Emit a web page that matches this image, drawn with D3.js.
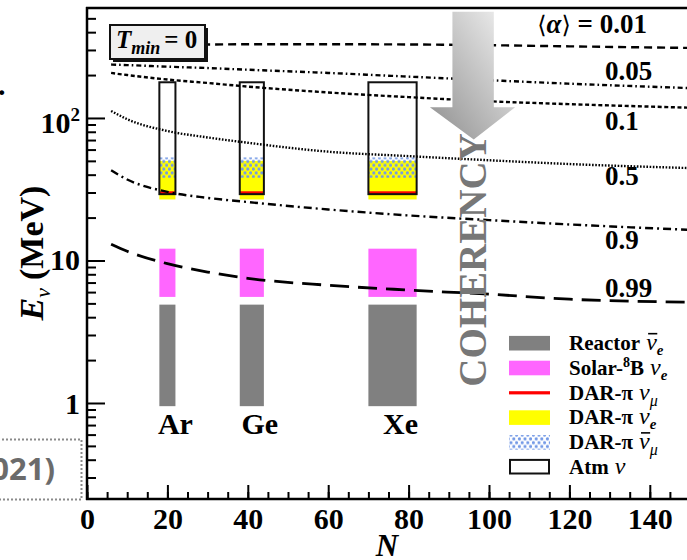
<!DOCTYPE html>
<html>
<head>
<meta charset="utf-8">
<script src="https://cdn.jsdelivr.net/npm/d3@7"></script>
<style>
  body { margin: 0; background: #fff; }
  svg { display: block; }
</style>
</head>
<body>
<div id="chart"></div>
<script>
// ---- data ----
var nGrid = [6, 10, 20, 30, 40, 60, 80, 100, 120, 150];
var alphaLabels = ["0.01", "0.05", "0.1", "0.5", "0.9", "0.99"];
var e001 = [330, 329, 328, 328, 329, 329, 328, 324, 318, 310];
var e005 = [237, 235, 229, 224, 218, 207, 195, 184, 174, 162];
var e01 = [207, 200, 186, 176, 166, 151, 140, 131, 125, 118];
var e05 = [112, 98, 81, 73, 67, 58, 54, 50.5, 47.5, 44.5];
var e09 = [43, 37, 30.3, 27.5, 25.7, 22.8, 20.7, 19.2, 17.9, 16.4];
var e099 = [13.0, 11.6, 9.5, 8.3, 7.5, 6.7, 6.2, 5.8, 5.35, 5.1];
var curves = [e001, e005, e01, e05, e09, e099];

var elements = ["Ar", "Ge", "Xe"];
var nMin = [18, 38, 70];
var nMax = [22, 44, 82];
var reactorE = [0.95, 4.9];
var solarE = [5.55, 12.1];
var darNuE = [26.8, 50];
var darNuMuBar = [38, 52.8];
var darNuMu = 29.8;
var atmE = [29.2, 178];

var xMajor = [0, 20, 40, 60, 80, 100, 120, 140];
var yMajor = [1, 10, 100];

// ---- styles ----
var serif = "'Liberation Serif', 'Times New Roman', 'DejaVu Serif', serif";
var dashes = ["8,5", "5,3,1.6,3", "4,2.6", "1.6,1.6", "8,4,2,4", "19,9"];
var labelY = [33, 80, 130, 185, 249, 297];
var grayC = "#808080", magentaC = "#ff66ff", yellowC = "#ffff00", redC = "#ff0000", dotC = "#7399e6";

var W = 687, H = 560;
var svg = d3.select("#chart").append("svg")
    .attr("width", W)
    .attr("height", H)
    .style("font-family", serif);

var x = d3.scaleLinear().domain([0, 150]).range([87, 690]);
var y = d3.scaleLog().domain([0.212, 591]).range([499, 8]);

var defs = svg.append("defs");
defs.append("clipPath").attr("id", "plot")
    .append("rect")
    .attr("x", x(0)).attr("y", y(591))
    .attr("width", x(150) - x(0)).attr("height", y(0.212) - y(591));

var pat = defs.append("pattern")
    .attr("id", "dots")
    .attr("patternUnits", "userSpaceOnUse")
    .attr("width", 5.6)
    .attr("height", 7.6);
pat.append("circle").attr("cx", 1.4).attr("cy", 1.9).attr("r", 1.6).attr("fill", dotC);
pat.append("circle").attr("cx", 4.2).attr("cy", 5.7).attr("r", 1.6).attr("fill", dotC);

var grad = defs.append("linearGradient")
    .attr("id", "arrowGrad")
    .attr("x1", 0).attr("y1", 1)
    .attr("x2", 1).attr("y2", 0);
grad.append("stop").attr("offset", 0).attr("stop-color", "#8e8e8e");
grad.append("stop").attr("offset", 1).attr("stop-color", "#f4f4f4");

var plot = svg.append("g").attr("clip-path", "url(#plot)");

// ---- experiment bands ----
function band(g, x0, w, lo, hi, fill) {
    g.append("rect")
        .attr("x", x0)
        .attr("width", w)
        .attr("y", y(hi))
        .attr("height", y(lo) - y(hi))
        .attr("fill", fill);
}

for (let i = 0; i < elements.length; i++) {
    var x0 = x(nMin[i]), w = x(nMax[i]) - x(nMin[i]);
    band(plot, x0, w, reactorE[0], reactorE[1], grayC);
    band(plot, x0, w, solarE[0], solarE[1], magentaC);
    band(plot, x0, w, darNuE[0], darNuE[1], yellowC);
    band(plot, x0, w, darNuMuBar[0], darNuMuBar[1], "url(#dots)");
    plot.append("rect")
        .attr("x", x0)
        .attr("width", w)
        .attr("y", y(darNuMu) - 1.6)
        .attr("height", 3.2)
        .attr("fill", redC);
    plot.append("rect")
        .attr("x", x0)
        .attr("width", w)
        .attr("y", y(atmE[1]))
        .attr("height", y(atmE[0]) - y(atmE[1]))
        .attr("fill", "none")
        .attr("stroke", "#111")
        .attr("stroke-width", 2);
    svg.append("text")
        .attr("x", x((nMin[i] + nMax[i]) / 2) + 8)
        .attr("y", 434)
        .attr("text-anchor", "middle")
        .attr("font-size", "30px")
        .attr("font-weight", "bold")
        .text(elements[i]);
}

// COHERENCY text (under the curves)
svg.append("text")
    .attr("transform", "translate(486," + 260 + ") rotate(-90)")
    .attr("text-anchor", "middle")
    .attr("font-size", "39px")
    .attr("font-weight", "bold")
    .attr("fill", "#777")
    .text("COHERENCY");

// ---- coherency curves ----
var line = d3.line()
    .x(function (d) { return x(d[0]); })
    .y(function (d) { return y(d[1]); })
    .curve(d3.curveMonotoneX);

curves.forEach(function (vals, k) {
    plot.append("path")
        .attr("d", line(nGrid.map(function (n, j) { return [n, vals[j]]; })))
        .attr("fill", "none")
        .attr("stroke", "#000")
        .attr("stroke-width", k == 5 ? 2.8 : 2.4)
        .attr("stroke-dasharray", dashes[k]);
});

// arrow on top of the curves
var ax = [x(90.9), x(101.2), x(85.3), x(106.5), x(96.2)];
var ayTop = y(591) + 3.7, ayNeck = y(119), ayTip = y(70.6);
svg.append("path")
    .attr("d", "M" + ax[0] + "," + ayTop + "L" + ax[1] + "," + ayTop +
        "L" + ax[1] + "," + ayNeck + "L" + ax[3] + "," + ayNeck +
        "L" + ax[4] + "," + ayTip + "L" + ax[2] + "," + ayNeck +
        "L" + ax[0] + "," + ayNeck + "Z")
    .attr("fill", "url(#arrowGrad)");

// curve labels
var lab = svg.append("g").attr("font-weight", "bold").attr("font-size", "27px");
var t0 = lab.append("text").attr("x", 647).attr("y", labelY[0]).attr("text-anchor", "end");
t0.append("tspan").attr("font-weight", "normal").attr("font-family", "'DejaVu Serif', serif").attr("font-size", "24px").text("\u27E8");
t0.append("tspan").attr("font-style", "italic").text("\u03B1");
t0.append("tspan").attr("font-weight", "normal").attr("font-family", "'DejaVu Serif', serif").attr("font-size", "24px").text("\u27E9");
t0.append("tspan").text(" = " + alphaLabels[0]);
for (let k = 1; k < alphaLabels.length; k++) {
    lab.append("text").attr("x", 605).attr("y", labelY[k]).text(alphaLabels[k]);
}

// T_min box
svg.append("rect").attr("x", 113).attr("y", 28).attr("width", 95).attr("height", 34).attr("fill", "#111");
svg.append("rect").attr("x", 110).attr("y", 25).attr("width", 95).attr("height", 34)
    .attr("fill", "#efefef").attr("stroke", "#111").attr("stroke-width", 2);
var tm = svg.append("text").attr("x", 116).attr("y", 48).attr("font-weight", "bold").attr("font-size", "25px");
tm.append("tspan").attr("font-style", "italic").text("T");
tm.append("tspan").attr("font-style", "italic").attr("font-size", "18px").attr("dy", 6).text("min");
tm.append("tspan").attr("dy", -6).attr("dx", 4).text("= 0");

// ---- legend ----
function richText(g, x0, y0, pieces) {
    var cx = x0;
    pieces.forEach(function (p) {
        var t = g.append("text")
            .attr("x", cx)
            .attr("y", y0 + (p.dy || 0))
            .attr("font-size", p.size + "px")
            .attr("font-weight", p.weight || "bold")
            .attr("font-style", p.italic ? "italic" : "normal")
            .text(p.s);
        var wd = t.node().getComputedTextLength();
        if (p.over) {
            g.append("line")
                .attr("x1", cx + 2).attr("x2", cx + wd + 0.5)
                .attr("y1", y0 - p.size * 0.68).attr("y2", y0 - p.size * 0.68)
                .attr("stroke", "#000").attr("stroke-width", 1.6);
        }
        cx += wd + (p.gap || 0);
    });
}

var legendNames = [
    [{ s: "Reactor", size: 21, gap: 6 }, { s: "\u03BD", size: 24, italic: 1, weight: "normal", over: 1 }, { s: "e", size: 15, italic: 1, dy: 5 }],
    [{ s: "Solar-", size: 21 }, { s: "8", size: 14, dy: -8 }, { s: "B", size: 21, gap: 6 }, { s: "\u03BD", size: 24, italic: 1, weight: "normal" }, { s: "e", size: 15, italic: 1, dy: 5 }],
    [{ s: "DAR-\u03C0", size: 21, gap: 6 }, { s: "\u03BD", size: 24, italic: 1, weight: "normal" }, { s: "\u03BC", size: 16, italic: 1, weight: "normal", dy: 6 }],
    [{ s: "DAR-\u03C0", size: 21, gap: 6 }, { s: "\u03BD", size: 24, italic: 1, weight: "normal" }, { s: "e", size: 15, italic: 1, dy: 5 }],
    [{ s: "DAR-\u03C0", size: 21, gap: 6 }, { s: "\u03BD", size: 24, italic: 1, weight: "normal", over: 1 }, { s: "\u03BC", size: 16, italic: 1, weight: "normal", dy: 6 }],
    [{ s: "Atm", size: 21, gap: 6 }, { s: "\u03BD", size: 24, italic: 1, weight: "normal" }]
];
var legendFill = [grayC, magentaC, null, yellowC, "url(#dots)", "none"];

var leg = svg.append("g");
legendNames.forEach(function (pieces, i) {
    var cy = 343.2 + i * 24.8;
    if (i == 2) {
        leg.append("rect").attr("x", 509).attr("y", cy - 1.6).attr("width", 41).attr("height", 3.2).attr("fill", redC);
    } else {
        leg.append("rect")
            .attr("x", i == 5 ? 510 : 509).attr("y", cy - 7.3)
            .attr("width", i == 5 ? 39 : 41).attr("height", i == 5 ? 13.6 : 14.6)
            .attr("fill", legendFill[i])
            .attr("stroke", i == 5 ? "#111" : "none")
            .attr("stroke-width", 2);
    }
    richText(leg, 569, cy + 6.8, pieces);
});

// ---- axes ----
var xAxisMinor = d3.axisBottom(x).tickValues(d3.range(0, 151, 5)).tickSize(-7).tickSizeOuter(0).tickFormat("");
var xAxisMajor = d3.axisBottom(x).tickValues(xMajor).tickSize(-14).tickSizeOuter(0).tickFormat(d3.format("d"));

var gx1 = svg.append("g").attr("transform", "translate(0,499)").call(xAxisMinor);
var gx2 = svg.append("g").attr("transform", "translate(0,499)").call(xAxisMajor);
[gx1, gx2].forEach(function (g) {
    g.select(".domain").remove();
    g.selectAll("line").attr("stroke", "#000").attr("stroke-width", 2);
});
gx2.selectAll("text")
    .attr("y", 30).attr("dy", 0)
    .attr("fill", "#000")
    .attr("font-family", serif)
    .attr("font-size", "30px")
    .attr("font-weight", "bold");

var yMinorVals = [];
[0.1, 1, 10, 100].forEach(function (dec) {
    for (let m = 2; m <= 9; m++) {
        var v = dec * m;
        if (v > 0.212 && v < 591) yMinorVals.push(v);
    }
});
var yAxisMinor = d3.axisLeft(y).tickValues(yMinorVals).tickSize(-9).tickSizeOuter(0).tickFormat("");
var yAxisMajor = d3.axisLeft(y).tickValues(yMajor).tickSize(-18).tickSizeOuter(0).tickFormat("");

var gy1 = svg.append("g").attr("transform", "translate(87,0)").call(yAxisMinor);
var gy2 = svg.append("g").attr("transform", "translate(87,0)").call(yAxisMajor);
[gy1, gy2].forEach(function (g) {
    g.select(".domain").remove();
    g.selectAll("line").attr("stroke", "#000").attr("stroke-width", 2);
});

var yLab = svg.append("g").attr("font-weight", "bold").attr("font-size", "30px").attr("text-anchor", "end");
yLab.append("text").attr("x", 80).attr("y", y(1) + 11).text("1");
yLab.append("text").attr("x", 80).attr("y", y(10) + 10).text("10");
var t100 = yLab.append("text").attr("x", 80).attr("y", y(100) + 15);
t100.append("tspan").text("10");
t100.append("tspan").attr("font-size", "19px").attr("dy", -12).text("2");

// frame
svg.append("line").attr("x1", 87).attr("x2", 87).attr("y1", 7).attr("y2", 500).attr("stroke", "#000").attr("stroke-width", 2.5);
svg.append("line").attr("x1", 86).attr("x2", 690).attr("y1", 499).attr("y2", 499).attr("stroke", "#000").attr("stroke-width", 2.5);
svg.append("line").attr("x1", 86).attr("x2", 690).attr("y1", 8).attr("y2", 8).attr("stroke", "#000").attr("stroke-width", 2.5);

// axis titles
var yt = svg.append("text")
    .attr("transform", "translate(43,253) rotate(-90)")
    .attr("text-anchor", "middle")
    .attr("font-size", "34px")
    .attr("font-weight", "bold");
yt.append("tspan").attr("font-style", "italic").text("E");
yt.append("tspan").attr("font-style", "italic").attr("font-weight", "normal").attr("font-size", "22px").attr("dy", 7).text("\u03BD");
yt.append("tspan").attr("dy", -7).attr("dx", 8).text("(MeV)");

svg.append("text")
    .attr("x", 387).attr("y", 556)
    .attr("text-anchor", "middle")
    .attr("font-size", "31px")
    .attr("font-weight", "bold")
    .attr("font-style", "italic")
    .text("N");

// cropped neighbours at the left edge
svg.append("text").attr("x", -2).attr("y", 95).attr("font-size", "30px").attr("font-weight", "bold").text(".");
svg.append("rect")
    .attr("x", -10).attr("y", 439.5).attr("width", 91.5).attr("height", 60)
    .attr("fill", "none").attr("stroke", "#8a8a8a").attr("stroke-width", 2).attr("stroke-dasharray", "2,2");
svg.append("text")
    .attr("x", 55).attr("y", 480)
    .attr("text-anchor", "end")
    .attr("font-family", "'Open Sans', 'Liberation Sans', sans-serif")
    .attr("font-size", "31px")
    .attr("font-weight", "bold")
    .attr("fill", "#6b6b6b")
    .text("(2021)");
</script>
</body>
</html>
